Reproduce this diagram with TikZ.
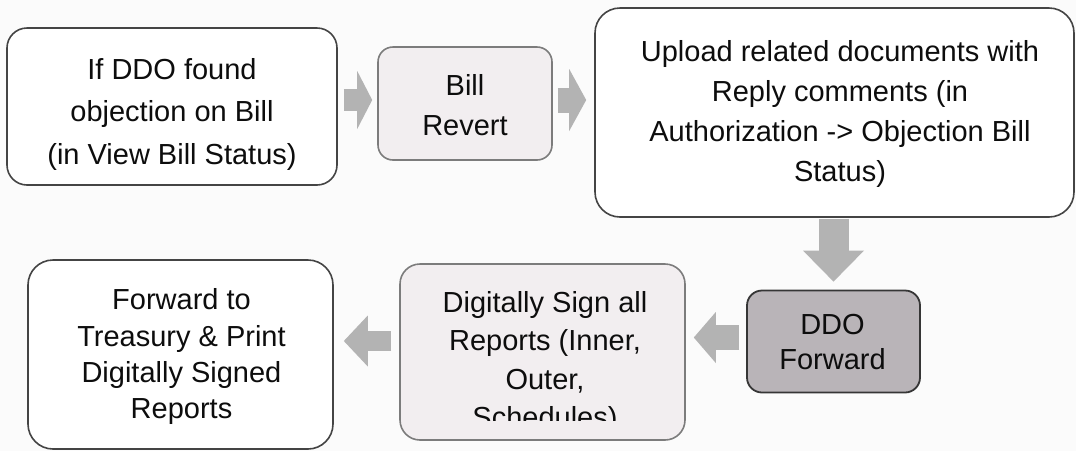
\documentclass[tikz,border=0pt]{standalone}
\usepackage{fontspec}
\setmainfont{Liberation Sans}
\usetikzlibrary{arrows.meta,calc}
\definecolor{bg}{HTML}{FBFBFB}
\definecolor{edgedark}{HTML}{444444}
\definecolor{edgelight}{HTML}{7C7C7C}
\definecolor{pinkfill}{HTML}{F2EEF0}
\definecolor{ddofill}{HTML}{B9B4B8}
\definecolor{arrowgray}{HTML}{B3B3B3}
\definecolor{ink}{HTML}{0D0D0D}
\newcommand{\vp}{\vphantom{(}}
\begin{document}
\begin{tikzpicture}[x=1pt,y=-1pt,
  whitebox/.style={draw=edgedark, line width=1.6pt, fill=white, inner sep=0pt, rounded corners=#1},
  pinkbox/.style={draw=edgelight, line width=1.6pt, fill=pinkfill, inner sep=0pt, rounded corners=#1},
  ddobox/.style={draw=edgedark!80!black, line width=1.8pt, fill=ddofill, inner sep=0pt, rounded corners=#1},
  txt/.style={text=ink, align=center, inner sep=0pt, font=\fontsize{29}{#1}\selectfont},
  blockarrow/.style={draw=arrowgray, line cap=butt}
]
\fill[bg] (0,0) rectangle (1076,451);
\useasboundingbox (0,0) rectangle (1076,451);

% boxes
\node[whitebox=20pt, minimum width=330pt, minimum height=157pt] (b1) at (172,106.5) {};
\node[pinkbox=15pt, minimum width=174pt, minimum height=113pt] (b2) at (465,103.5) {};
\node[whitebox=25pt, minimum width=479pt, minimum height=209pt] (b3) at (834.5,112.5) {};
\node[ddobox=15pt, minimum width=173pt, minimum height=102pt] (b4) at (833.5,341.5) {};
\node[pinkbox=20pt, minimum width=285pt, minimum height=176pt] (b5) at (542.5,352) {};
\node[whitebox=25pt, minimum width=305pt, minimum height=189pt] (b6) at (180.5,354.5) {};

% texts
\node[txt=42.5] (t1) at (172,114.4) {\vp If DDO found\\objection on Bill\\(in View Bill Status)};
\node[txt=40] (t2) at (465,107.9) {\vp Bill\\\vp Revert};
\node[txt=40] (t3) at (840,113.9) {\vp Upload related documents with\\Reply comments (in\\Authorization -> Objection Bill\\Status)};
\node[txt=35] (t4) at (832.5,344.4) {\vp DDO\\\vp Forward};
\begin{scope}
  \clip (0,0) rectangle (1076,420);
  \node[txt=38.3] (t5) at (545,362.4) {\vp Digitally Sign all\\Reports (Inner,\\Outer,\\Schedules)};
\end{scope}
\node[txt=36.3] (t6) at (181.5,356.9) {\vp Forward to\\Treasury \& Print\\Digitally Signed\\\vp Reports};

% connectors
\draw[blockarrow, line width=22pt, -{Triangle[length=15pt,width=58pt,line width=0pt]}, shorten <=6pt, shorten >=5pt]
  ([yshift=3.5pt]b2.west -| b1.east) -- ([yshift=3.5pt]b2.west);
\draw[blockarrow, line width=25pt, -{Triangle[length=17pt,width=62pt,line width=0pt]}, shorten <=5pt, shorten >=8pt]
  ([yshift=3.5pt]b2.east) -- ([yshift=3.5pt]b2.east -| b3.west);
\draw[blockarrow, line width=30pt, -{Triangle[length=31pt,width=61pt,line width=0pt]}, shorten <=1pt, shorten >=8pt]
  (b3.south -| b4.north) -- (b4.north);
\draw[blockarrow, line width=25pt, -{Triangle[length=22pt,width=51pt,line width=0pt]}, shorten <=7pt, shorten >=8pt]
  ([yshift=4pt]b4.west) -- ([yshift=4pt]b4.west -| b5.east);
\draw[blockarrow, line width=20pt, -{Triangle[length=24pt,width=51pt,line width=0pt]}, shorten <=8pt, shorten >=10pt]
  ([yshift=11pt]b5.west) -- ([yshift=11pt]b5.west -| b6.east);
\end{tikzpicture}
\end{document}
